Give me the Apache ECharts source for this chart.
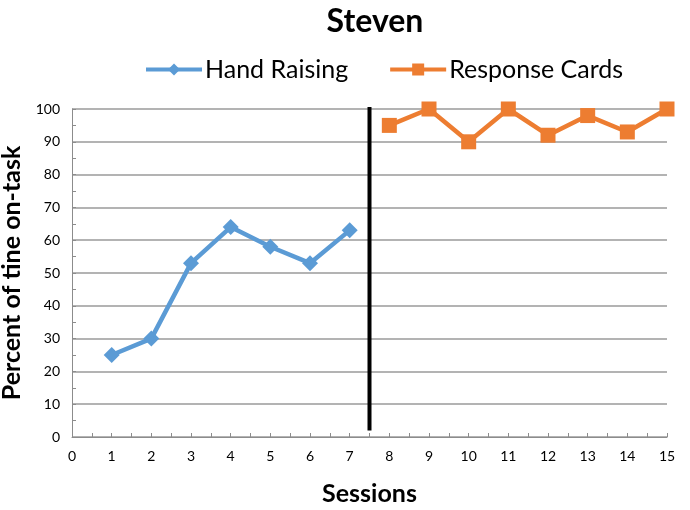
<!DOCTYPE html>
<html><head><meta charset="utf-8">
<script src="https://cdn.jsdelivr.net/npm/echarts@6/dist/echarts.min.js"></script>
<style>html,body{margin:0;padding:0;background:#fff}#c{width:690px;height:510px}</style>
</head><body><div id="c"></div>
<script>
const handSessions = [1, 2, 3, 4, 5, 6, 7];
const handValues = [25, 30, 53, 64, 58, 53, 63];
const cardSessions = [8, 9, 10, 11, 12, 13, 14, 15];
const cardValues = [95, 100, 90, 100, 92, 98, 93, 100];
const phaseChangeX = 7.5;
const phaseLineY = [102, 2];
const yTicks = [0, 10, 20, 30, 40, 50, 60, 70, 80, 90, 100];

const font = "Lato, 'Open Sans', sans-serif";
const chart = echarts.init(document.getElementById('c'));
chart.setOption({
  animation: false,
  title: {
    text: 'Steven', left: 370, top: 1, textAlign: 'center',
    textStyle: { fontFamily: font, fontSize: 32, fontWeight: 'bold', color: '#000' }
  },
  legend: {
    data: ['Hand Raising', 'Response Cards'],
    top: 52, left: 139, itemWidth: 56, itemHeight: 15, itemGap: 40,
    lineStyle: { width: 4 },
    textStyle: { fontFamily: font, fontSize: 25, color: '#000', padding: [0, 0, 0, -2] }
  },
  grid: { left: 72, right: 23, top: 109, bottom: 73, outerBoundsMode: 'none' },
  xAxis: {
    type: 'value', min: 0, max: 15, interval: 1,
    name: 'Sessions', nameLocation: 'middle', nameGap: 44,
    nameTextStyle: { fontFamily: font, fontSize: 25, fontWeight: 'bold', color: '#000' },
    axisLine: { lineStyle: { color: '#8c8c8c', width: 1 } },
    axisTick: { inside: true, length: 4, lineStyle: { color: '#8c8c8c' } },
    minorTick: { show: true, splitNumber: 2, length: 4, lineStyle: { color: '#8c8c8c' } },
    axisLabel: { fontFamily: font, fontSize: 14, color: '#000', margin: 12 },
    splitLine: { show: false }
  },
  yAxis: {
    type: 'value', min: yTicks[0], max: yTicks[yTicks.length - 1], interval: 10,
    name: 'Percent of tine on-task', nameLocation: 'middle', nameGap: 37,
    nameTextStyle: { fontFamily: font, fontSize: 25, fontWeight: 'bold', color: '#000' },
    axisLine: { show: true, lineStyle: { color: '#8c8c8c', width: 1 } },
    axisTick: { show: true, inside: true, length: 4, lineStyle: { color: '#8c8c8c' } },
    minorTick: { show: true, splitNumber: 2, length: 4, lineStyle: { color: '#8c8c8c' } },
    axisLabel: { fontFamily: font, fontSize: 14, color: '#000', margin: 12 },
    splitLine: { show: true, lineStyle: { color: '#9a9a9a', width: 1.5 } }
  },
  series: [
    {
      name: 'Hand Raising', type: 'line',
      data: handSessions.map((s, i) => [s, handValues[i]]),
      symbol: 'diamond', symbolSize: 16,
      lineStyle: { color: '#5b9bd5', width: 4.5 },
      itemStyle: { color: '#5b9bd5' }
    },
    {
      name: 'Response Cards', type: 'line',
      data: cardSessions.map((s, i) => [s, cardValues[i]]),
      symbol: 'rect', symbolSize: 15,
      lineStyle: { color: '#ed7d31', width: 4.5 },
      itemStyle: { color: '#ed7d31' }
    },
    {
      name: 'Phase change', type: 'line',
      data: phaseLineY.map(y => [phaseChangeX, y]),
      symbol: 'none', silent: true,
      lineStyle: { color: '#000', width: 4 }
    }
  ]
});
</script></body></html>
